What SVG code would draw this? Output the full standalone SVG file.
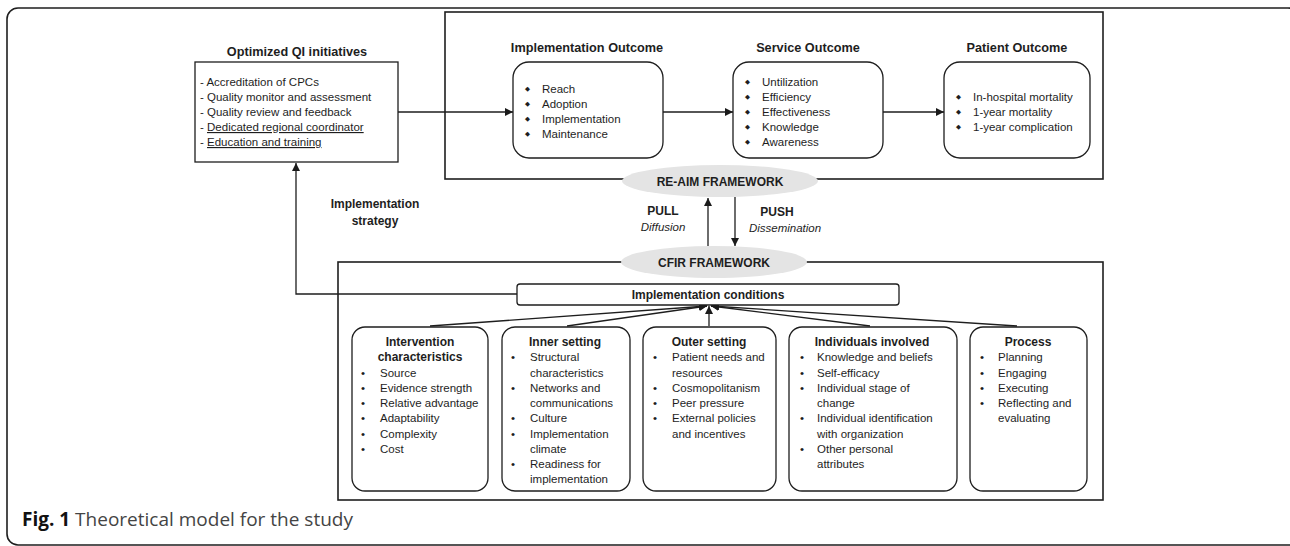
<svg xmlns="http://www.w3.org/2000/svg" width="1290" height="546" viewBox="0 0 1290 546">
<defs>
<marker id="ah" viewBox="0 0 10 10" refX="10" refY="5" markerWidth="8" markerHeight="8" markerUnits="userSpaceOnUse" orient="auto">
<path d="M0,0 L10,5 L0,10 z" fill="#1a1a1a"/>
</marker>
<style>
text{font-family:"Liberation Sans",Arial,sans-serif;fill:#1e1e1e;}
.t{font-size:11.5px;}
.b{font-size:12px;font-weight:bold;}
.h{font-size:12.7px;font-weight:bold;}
.c{text-anchor:middle;}
.box{fill:#fff;stroke:#1e1e1e;stroke-width:1.3;}
.frame{fill:none;stroke:#1e1e1e;stroke-width:1.6;}
.ell{fill:#e4e4e4;stroke:none;}
.ln{fill:none;stroke:#1e1e1e;stroke-width:1.3;}
.d{font-family:"DejaVu Sans",sans-serif;font-size:6.5px;}
.u{text-decoration:underline;}
</style>
</defs>
<rect width="1290" height="546" fill="#fff"/>
<rect x="7" y="8" width="1292" height="537" rx="11" class="frame"/>

<g id="re-aim-frame">
<rect x="445" y="12" width="658" height="167" class="frame"/>
</g>
<g id="cfir-frame">
<rect x="338" y="262" width="765" height="238" class="frame"/>
</g>

<g id="connectors">
<line x1="398" y1="112" x2="513" y2="112" class="ln" marker-end="url(#ah)"/>
<line x1="663" y1="112" x2="733" y2="112" class="ln" marker-end="url(#ah)"/>
<line x1="883" y1="112" x2="944" y2="112" class="ln" marker-end="url(#ah)"/>
<line x1="708" y1="246" x2="708" y2="198" class="ln" marker-end="url(#ah)"/>
<line x1="735" y1="197" x2="735" y2="246" class="ln" marker-end="url(#ah)"/>
<polyline points="517,294 296,294 296,163" class="ln" marker-end="url(#ah)"/>
<line x1="430" y1="326" x2="707" y2="306" class="ln" marker-end="url(#ah)"/>
<line x1="567" y1="326" x2="707" y2="306" class="ln" marker-end="url(#ah)"/>
<line x1="709" y1="326" x2="709" y2="306" class="ln" marker-end="url(#ah)"/>
<line x1="870" y1="326" x2="711" y2="306" class="ln" marker-end="url(#ah)"/>
<line x1="1017" y1="326" x2="711" y2="306" class="ln" marker-end="url(#ah)"/>
</g>

<g id="re-aim">
<ellipse cx="720" cy="181" rx="98" ry="16" class="ell"/>
<text x="720" y="185.5" class="b c">RE-AIM FRAMEWORK</text>
</g>
<g id="cfir">
<ellipse cx="714" cy="262" rx="93" ry="16" class="ell"/>
<text x="714" y="266.5" class="b c">CFIR FRAMEWORK</text>
</g>

<g id="pull">
<text x="663" y="215" class="b c">PULL</text>
<text x="663" y="231" class="t c" font-style="italic">Diffusion</text>
</g>
<g id="push">
<text x="777" y="216" class="b c">PUSH</text>
<text x="785" y="232" class="t c" font-style="italic">Dissemination</text>
</g>
<g id="strategy">
<text x="375" y="208" class="b c">Implementation</text>
<text x="375" y="225" class="b c">strategy</text>
</g>

<g id="qi">
<text x="297" y="56" class="h c">Optimized QI initiatives</text>
<rect x="195" y="62" width="203" height="100" class="box"/>
<text class="t" x="200" y="86">- Accreditation of CPCs</text>
<text class="t" x="200" y="101">- Quality monitor and assessment</text>
<text class="t" x="200" y="116">- Quality review and feedback</text>
<text class="t" x="200" y="131">- <tspan class="u">Dedicated regional coordinator</tspan></text>
<text class="t" x="200" y="146">- <tspan class="u">Education and training</tspan></text>
</g>

<g id="implementation-outcome">
<text x="587" y="52" class="h c">Implementation Outcome</text>
<rect x="513" y="62" width="150" height="96" rx="16" class="box"/>
<text class="d" x="525" y="91">◆</text><text class="t" x="542" y="93">Reach</text>
<text class="d" x="525" y="106">◆</text><text class="t" x="542" y="108">Adoption</text>
<text class="d" x="525" y="121">◆</text><text class="t" x="542" y="123">Implementation</text>
<text class="d" x="525" y="136">◆</text><text class="t" x="542" y="138">Maintenance</text>
</g>

<g id="service-outcome">
<text x="808" y="52" class="h c">Service Outcome</text>
<rect x="733" y="62" width="150" height="96" rx="16" class="box"/>
<text class="d" x="745" y="84">◆</text><text class="t" x="762" y="86">Untilization</text>
<text class="d" x="745" y="99">◆</text><text class="t" x="762" y="101">Efficiency</text>
<text class="d" x="745" y="114">◆</text><text class="t" x="762" y="116">Effectiveness</text>
<text class="d" x="745" y="129">◆</text><text class="t" x="762" y="131">Knowledge</text>
<text class="d" x="745" y="144">◆</text><text class="t" x="762" y="146">Awareness</text>
</g>

<g id="patient-outcome">
<text x="1017" y="52" class="h c">Patient Outcome</text>
<rect x="944" y="62" width="146" height="96" rx="16" class="box"/>
<text class="d" x="956" y="99">◆</text><text class="t" x="973" y="101">In-hospital mortality</text>
<text class="d" x="956" y="114">◆</text><text class="t" x="973" y="116">1-year mortality</text>
<text class="d" x="956" y="129">◆</text><text class="t" x="973" y="131">1-year complication</text>
</g>

<g id="conditions">
<rect x="517" y="284" width="382" height="21" rx="3" class="box"/>
<text x="708" y="299" class="b c">Implementation conditions</text>
</g>

<g id="intervention">
<rect x="352" y="327" width="136" height="164" rx="13" class="box"/>
<text x="420" y="346" class="b c">Intervention</text>
<text x="420" y="361" class="b c">characteristics</text>
<text class="t" x="361" y="377">•</text><text class="t" x="380" y="377">Source</text>
<text class="t" x="361" y="392">•</text><text class="t" x="380" y="392">Evidence strength</text>
<text class="t" x="361" y="407">•</text><text class="t" x="380" y="407">Relative advantage</text>
<text class="t" x="361" y="422">•</text><text class="t" x="380" y="422">Adaptability</text>
<text class="t" x="361" y="438">•</text><text class="t" x="380" y="438">Complexity</text>
<text class="t" x="361" y="453">•</text><text class="t" x="380" y="453">Cost</text>
</g>

<g id="inner">
<rect x="502" y="327" width="128" height="164" rx="13" class="box"/>
<text x="565" y="346" class="b c">Inner setting</text>
<text class="t" x="511" y="361">•</text><text class="t" x="530" y="361">Structural</text>
<text class="t" x="530" y="377">characteristics</text>
<text class="t" x="511" y="392">•</text><text class="t" x="530" y="392">Networks and</text>
<text class="t" x="530" y="407">communications</text>
<text class="t" x="511" y="422">•</text><text class="t" x="530" y="422">Culture</text>
<text class="t" x="511" y="438">•</text><text class="t" x="530" y="438">Implementation</text>
<text class="t" x="530" y="453">climate</text>
<text class="t" x="511" y="468">•</text><text class="t" x="530" y="468">Readiness for</text>
<text class="t" x="530" y="483">implementation</text>
</g>

<g id="outer">
<rect x="643" y="327" width="133" height="164" rx="13" class="box"/>
<text x="709" y="346" class="b c">Outer setting</text>
<text class="t" x="653" y="361">•</text><text class="t" x="672" y="361">Patient needs and</text>
<text class="t" x="672" y="377">resources</text>
<text class="t" x="653" y="392">•</text><text class="t" x="672" y="392">Cosmopolitanism</text>
<text class="t" x="653" y="407">•</text><text class="t" x="672" y="407">Peer pressure</text>
<text class="t" x="653" y="422">•</text><text class="t" x="672" y="422">External policies</text>
<text class="t" x="672" y="438">and incentives</text>
</g>

<g id="individuals">
<rect x="789" y="327" width="168" height="164" rx="13" class="box"/>
<text x="872" y="346" class="b c">Individuals involved</text>
<text class="t" x="800" y="361">•</text><text class="t" x="817" y="361">Knowledge and beliefs</text>
<text class="t" x="800" y="377">•</text><text class="t" x="817" y="377">Self-efficacy</text>
<text class="t" x="800" y="392">•</text><text class="t" x="817" y="392">Individual stage of</text>
<text class="t" x="817" y="407">change</text>
<text class="t" x="800" y="422">•</text><text class="t" x="817" y="422">Individual identification</text>
<text class="t" x="817" y="438">with organization</text>
<text class="t" x="800" y="453">•</text><text class="t" x="817" y="453">Other personal</text>
<text class="t" x="817" y="468">attributes</text>
</g>

<g id="process">
<rect x="970" y="327" width="117" height="164" rx="13" class="box"/>
<text x="1028" y="346" class="b c">Process</text>
<text class="t" x="980" y="361">•</text><text class="t" x="998" y="361">Planning</text>
<text class="t" x="980" y="377">•</text><text class="t" x="998" y="377">Engaging</text>
<text class="t" x="980" y="392">•</text><text class="t" x="998" y="392">Executing</text>
<text class="t" x="980" y="407">•</text><text class="t" x="998" y="407">Reflecting and</text>
<text class="t" x="998" y="422">evaluating</text>
</g>

<g id="caption">
<text x="22" y="526" font-size="19px" style="font-family:'Open Sans','Liberation Sans',sans-serif"><tspan font-weight="bold" fill="#111">Fig. 1</tspan><tspan fill="#444"> Theoretical model for the study</tspan></text>
</g>
</svg>
